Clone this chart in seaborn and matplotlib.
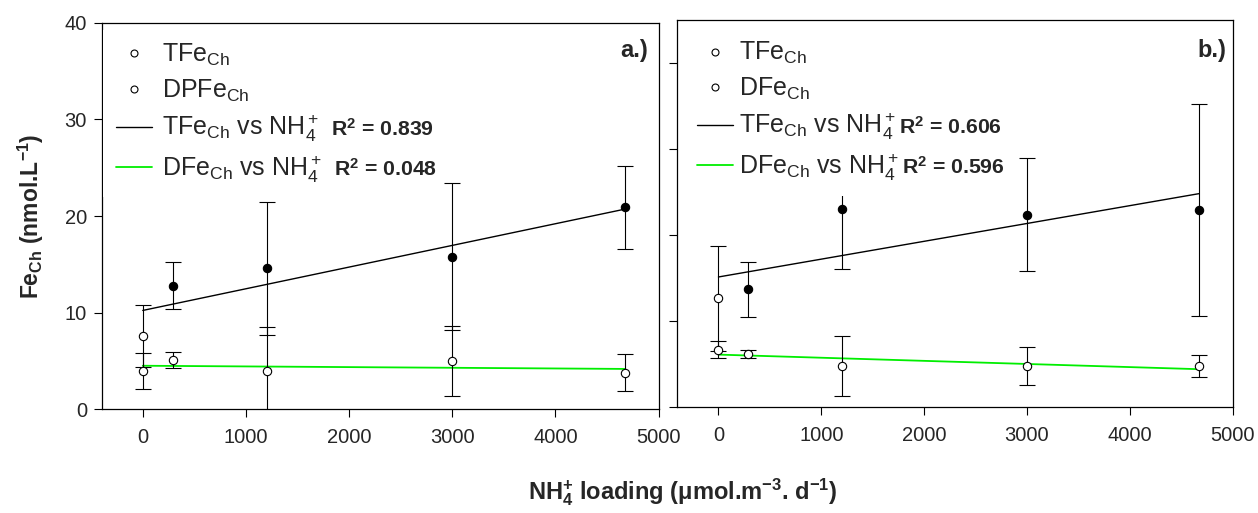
import numpy as np
import pandas as pd
import matplotlib
matplotlib.use("Agg")
import matplotlib.pyplot as plt
from matplotlib.lines import Line2D
import seaborn as sns

# ---------------- data ----------------
nh4_loading = [0, 290, 1200, 3000, 4670]

tfe_a = [7.6, 12.8, 14.6, 15.8, 20.9]
tfe_a_err = [3.2, 2.4, 6.9, 7.6, 4.3]
dfe_a = [4.0, 5.1, 4.0, 5.0, 3.8]
dfe_a_err = [1.85, 0.85, 4.55, 3.6, 1.9]

tfe_b = [12.7, 13.7, 23.0, 22.4, 22.9]
tfe_b_err = [6.1, 3.2, 6.9, 6.6, 12.3]
dfe_b = [6.7, 6.2, 4.8, 4.8, 4.8]
dfe_b_err = [1.0, 0.5, 3.45, 2.2, 1.25]

tfe_filled = [False, True, True, True, True]

r2_a = ["0.839", "0.048"]
r2_b = ["0.606", "0.596"]
point_names_a = ["TFe", "DPFe"]
point_names_b = ["TFe", "DFe"]
fit_names = ["TFe", "DFe"]
panel_tags = ["a.)", "b.)"]
xticks = [0, 1000, 2000, 3000, 4000, 5000]
yticks = [0, 10, 20, 30, 40]

# ---------------- style ----------------
sns.set_theme(style="ticks")
plt.rcParams["font.family"] = ["Liberation Sans", "DejaVu Sans"]
plt.rcParams["mathtext.fontset"] = "custom"
plt.rcParams["mathtext.rm"] = "Liberation Sans"
plt.rcParams["mathtext.it"] = "Liberation Sans:italic"
plt.rcParams["mathtext.bf"] = "Liberation Sans:bold"
plt.rcParams["axes.linewidth"] = 0.9
plt.rcParams["axes.edgecolor"] = "black"

GREEN = "#00ee00"

fig = plt.figure(figsize=(12.58, 5.13), dpi=100)
ax_a = fig.add_axes([0.0807, 0.2021, 0.4428, 0.7536])
ax_b = fig.add_axes([0.5384, 0.2060, 0.4415, 0.7550])


def draw_panel(ax, tfe, tfe_err, dfe, dfe_err, ymax):
    df = pd.DataFrame({"x": nh4_loading, "tfe": tfe, "dfe": dfe,
                       "filled": tfe_filled})
    x = np.asarray(nh4_loading, dtype=float)
    xs = np.array([x.min(), x.max()])
    for yv, col, lw in ((tfe, "black", 1.0), (dfe, GREEN, 1.3)):
        k, b0 = np.polyfit(x, np.asarray(yv, dtype=float), 1)
        sns.lineplot(x=xs, y=k * xs + b0, color=col, lw=lw, ax=ax, zorder=2)
    for yv, ev in ((tfe, tfe_err), (dfe, dfe_err)):
        ax.errorbar(df["x"], yv, yerr=ev, fmt="none", ecolor="black",
                    elinewidth=0.8, capsize=6, capthick=0.8, zorder=2.5)
    sns.scatterplot(data=df[df["filled"]], x="x", y="tfe", color="black",
                    edgecolor="black", linewidth=0.8, s=36, ax=ax, zorder=3)
    sns.scatterplot(data=df[~df["filled"]], x="x", y="tfe", color="white",
                    edgecolor="black", linewidth=0.8, s=36, ax=ax, zorder=3)
    sns.scatterplot(data=df, x="x", y="dfe", color="white",
                    edgecolor="black", linewidth=0.8, s=36, ax=ax, zorder=3)
    ax.set_xlim(-400, 5000)
    ax.set_ylim(0, ymax)
    ax.set_xticks(xticks)
    ax.set_yticks(yticks)
    ax.set_xlabel("")
    ax.set_ylabel("")
    ax.tick_params(axis="both", direction="out", length=5.5, width=0.8,
                   labelsize=14.5, color="black")
    ax.tick_params(axis="x", pad=8)
    ax.tick_params(axis="y", pad=5)
    for sp in ax.spines.values():
        sp.set_visible(True)
        sp.set_color("black")


draw_panel(ax_a, tfe_a, tfe_a_err, dfe_a, dfe_a_err, 40)
draw_panel(ax_b, tfe_b, tfe_b_err, dfe_b, dfe_b_err, 45)
ax_b.tick_params(axis="y", labelleft=False)


def make_legend(ax, point_names, anchor, textpad):
    handles = [
        Line2D([], [], ls="none", marker="o", mfc="white", mec="black",
               mew=0.8, ms=5),
        Line2D([], [], ls="none", marker="o", mfc="white", mec="black",
               mew=0.8, ms=5),
        Line2D([], [], color="black", lw=1.0),
        Line2D([], [], color=GREEN, lw=1.3),
    ]
    labels = [f"{point_names[0]}$_{{\\mathrm{{Ch}}}}$",
              f"{point_names[1]}$_{{\\mathrm{{Ch}}}}$"]
    for nm in fit_names:
        labels.append(f"{nm}$_{{\\mathrm{{Ch}}}}$ vs NH$_4^+$")
    leg = ax.legend(handles, labels, loc="upper left", bbox_to_anchor=anchor,
                    fontsize=18, frameon=True, fancybox=False,
                    framealpha=1, facecolor="white", edgecolor="none",
                    handlelength=1.45, handletextpad=textpad,
                    labelspacing=0.37, borderpad=0.5, borderaxespad=0)
    leg.set_zorder(5)
    return leg


leg_a = make_legend(ax_a, point_names_a, (0.003, 0.982), 0.4)
leg_b = make_legend(ax_b, point_names_b, (0.013, 0.980), 0.22)

ax_a.text(0.981, 0.929, panel_tags[0], transform=ax_a.transAxes, ha="right",
          va="center", fontsize=17, fontweight="bold", zorder=6)
ax_b.text(0.988, 0.920, panel_tags[1], transform=ax_b.transAxes, ha="right",
          va="center", fontsize=17, fontweight="bold", zorder=6)

fig.text(31 / 1258, 0.579,
         r"Fe$_{\mathbf{Ch}}$ (nmol.L$^{\mathbf{-1}}$)",
         rotation=90, ha="center", va="center", fontsize=16.5,
         fontweight="bold")
fig.text(0.5425, 0.041,
         r"NH$_{\mathbf{4}}^{\mathbf{+}}$ loading ($\mathbf{\mu}$mol.m$^{\mathbf{-3}}$. d$^{\mathbf{-1}}$)",
         ha="center", va="center", fontsize=17, fontweight="bold")

# R^2 annotations placed right after the regression legend entries
fig.canvas.draw()
renderer = fig.canvas.get_renderer()
for leg, r2_vals, gap_px in ((leg_a, r2_a, 12), (leg_b, r2_b, 3)):
    for t, r in zip(leg.get_texts()[2:], r2_vals):
        bb = t.get_window_extent(renderer)
        _, _, d = renderer.get_text_width_height_descent(
            t.get_text(), t.get_fontproperties(), ismath=True)
        fx, fy = fig.transFigure.inverted().transform((bb.x1 + gap_px,
                                                       bb.y0 + d))
        fig.text(fx, fy, r"$\mathbf{R^2}$ = " + r, fontsize=15.3,
                 fontweight="bold", ha="left", va="baseline", zorder=10)

fig.savefig("out.png", dpi=100)
